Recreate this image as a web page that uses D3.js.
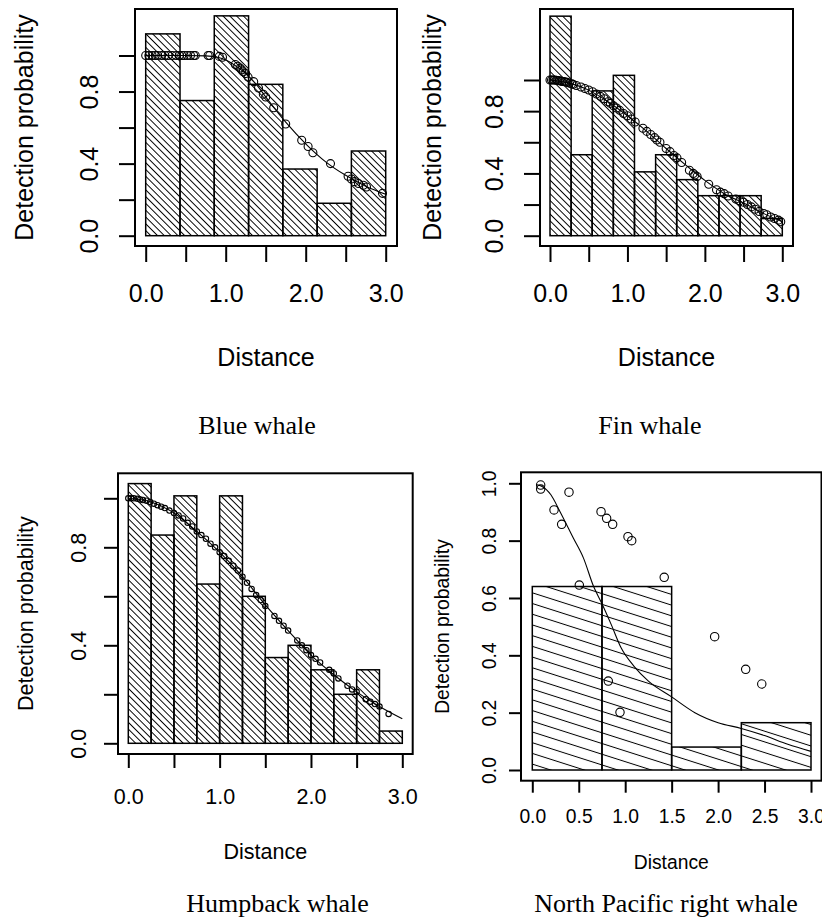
<!DOCTYPE html>
<html>
<head>
<meta charset="utf-8">
<script src="https://cdn.jsdelivr.net/npm/d3@7"></script>
<style>
  body { margin: 0; background: #fff; }
  svg { display: block; }
</style>
</head>
<body>
<div class="chart-container"></div>
<script>
// Histogram bins (distance) and scaled heights.
const blueEdges = [0, 0.429, 0.857, 1.286, 1.714, 2.143, 2.571, 3.0]
const blueHeights = [1.12, 0.75, 1.22, 0.84, 0.37, 0.18, 0.47]

const finEdges = [0, 0.273, 0.545, 0.818, 1.091, 1.364, 1.636, 1.909, 2.182, 2.455, 2.727, 3.0]
const finHeights = [1.41, 0.52, 0.93, 1.03, 0.41, 0.52, 0.36, 0.257, 0.257, 0.257, 0.11]

const humpEdges = [0, 0.25, 0.5, 0.75, 1.0, 1.25, 1.5, 1.75, 2.0, 2.25, 2.5, 2.75, 3.0]
const humpHeights = [1.06, 0.85, 1.01, 0.65, 1.01, 0.6, 0.35, 0.4, 0.3, 0.2, 0.3, 0.05]

const nprwEdges = [0, 0.75, 1.5, 2.25, 3.0]
const nprwHeights = [0.64, 0.64, 0.08, 0.165]

// Fitted detection functions [distance, probability].
const blueCurve = [[0, 1], [0.25, 1], [0.5, 1], [0.75, 0.998], [0.9, 0.99], [1.0, 0.975], [1.1, 0.95],
  [1.25, 0.9], [1.4, 0.83], [1.5, 0.77], [1.75, 0.63], [2.0, 0.51], [2.25, 0.41], [2.5, 0.335],
  [2.75, 0.275], [3.0, 0.23]]
const finCurve = [[0, 1], [0.25, 0.98], [0.5, 0.935], [0.75, 0.86], [1.0, 0.77], [1.25, 0.67],
  [1.5, 0.56], [1.75, 0.455], [2.0, 0.355], [2.25, 0.27], [2.5, 0.21], [2.75, 0.145], [3.0, 0.09]]
const humpCurve = [[0, 1.0], [0.25, 0.985], [0.5, 0.94], [0.75, 0.865], [1.0, 0.78], [1.25, 0.68],
  [1.5, 0.565], [1.75, 0.46], [2.0, 0.36], [2.25, 0.28], [2.5, 0.21], [2.75, 0.15], [3.0, 0.1]]
const nprwCurve = [[0.05, 0.995], [0.1, 0.99], [0.2, 0.96], [0.3, 0.9], [0.44, 0.81], [0.55, 0.74],
  [0.66, 0.64], [0.75, 0.58], [0.85, 0.507], [0.95, 0.43], [1.1, 0.36], [1.25, 0.31], [1.5, 0.255],
  [1.75, 0.2], [2.0, 0.165], [2.25, 0.145], [2.5, 0.12], [2.75, 0.09], [3.0, 0.065]]

// Observed detections [distance, probability].
const bluePoints = [[0.0, 1.0], [0.04, 1.0], [0.08, 1.0], [0.12, 1.0], [0.15, 1.0], [0.2, 1.0],
  [0.24, 1.0], [0.28, 1.0], [0.33, 1.0], [0.38, 1.0], [0.42, 1.0], [0.45, 1.0], [0.48, 1.0],
  [0.52, 1.0], [0.56, 1.0], [0.6, 1.0], [0.62, 1.0], [0.78, 1.0], [0.8, 1.0], [0.92, 0.995],
  [0.96, 0.99], [1.12, 0.95], [1.15, 0.94], [1.18, 0.93], [1.2, 0.92], [1.22, 0.91], [1.25, 0.9],
  [1.28, 0.88], [1.35, 0.855], [1.41, 0.82], [1.47, 0.785], [1.5, 0.77], [1.6, 0.71], [1.75, 0.62],
  [1.95, 0.53], [2.03, 0.495], [2.09, 0.46], [2.31, 0.4], [2.53, 0.33], [2.57, 0.315], [2.61, 0.3],
  [2.66, 0.29], [2.72, 0.28], [2.76, 0.27], [2.96, 0.235]]
const finPoints = [[0, 1], [0.02, 1], [0.04, 1], [0.06, 1], [0.08, 0.998], [0.1, 0.997], [0.12, 0.995],
  [0.14, 0.993], [0.16, 0.99], [0.18, 0.99], [0.2, 0.987], [0.22, 0.985], [0.25, 0.98], [0.28, 0.975],
  [0.3, 0.972], [0.34, 0.965], [0.4, 0.955], [0.45, 0.945], [0.5, 0.936], [0.55, 0.925], [0.6, 0.91],
  [0.65, 0.895], [0.7, 0.88], [0.75, 0.86], [0.78, 0.85], [0.82, 0.835], [0.86, 0.82], [0.9, 0.805],
  [0.95, 0.785], [1.0, 0.77], [1.05, 0.75], [1.1, 0.73], [1.2, 0.69], [1.25, 0.67], [1.3, 0.65],
  [1.35, 0.63], [1.38, 0.615], [1.42, 0.6], [1.5, 0.56], [1.55, 0.54], [1.6, 0.515], [1.64, 0.5],
  [1.7, 0.47], [1.8, 0.42], [1.85, 0.4], [1.87, 0.39], [1.9, 0.38], [2.05, 0.33], [2.15, 0.295],
  [2.2, 0.28], [2.25, 0.27], [2.3, 0.255], [2.4, 0.235], [2.45, 0.225], [2.5, 0.215], [2.55, 0.2],
  [2.6, 0.185], [2.65, 0.17], [2.7, 0.155], [2.76, 0.143], [2.8, 0.135], [2.85, 0.12], [2.9, 0.11],
  [2.95, 0.1], [2.98, 0.09]]
const humpPoints = [[0, 1.0], [0.03, 1.0], [0.06, 1.0], [0.1, 0.998], [0.13, 0.995], [0.16, 0.993],
  [0.2, 0.99], [0.24, 0.985], [0.28, 0.978], [0.32, 0.972], [0.36, 0.966], [0.4, 0.96], [0.45, 0.95],
  [0.5, 0.94], [0.55, 0.93], [0.6, 0.918], [0.65, 0.9], [0.7, 0.885], [0.75, 0.865], [0.8, 0.85],
  [0.85, 0.835], [0.9, 0.815], [0.95, 0.8], [1.0, 0.78], [1.05, 0.765], [1.1, 0.745], [1.15, 0.725],
  [1.2, 0.705], [1.25, 0.68], [1.3, 0.655], [1.35, 0.63], [1.4, 0.605], [1.45, 0.585], [1.5, 0.56],
  [1.6, 0.52], [1.65, 0.5], [1.7, 0.48], [1.75, 0.46], [1.85, 0.42], [1.9, 0.4], [1.95, 0.38],
  [2.0, 0.36], [2.05, 0.345], [2.1, 0.33], [2.2, 0.3], [2.25, 0.285], [2.3, 0.265], [2.4, 0.235],
  [2.45, 0.22], [2.5, 0.21], [2.6, 0.18], [2.65, 0.17], [2.7, 0.16], [2.75, 0.15], [2.85, 0.12]]
const nprwPoints = [[0.09, 0.994], [0.09, 0.98], [0.395, 0.969], [0.234, 0.907], [0.316, 0.857],
  [0.74, 0.901], [0.8, 0.878], [0.865, 0.857], [1.03, 0.814], [1.07, 0.8], [1.42, 0.672],
  [0.506, 0.645], [0.818, 0.31], [0.944, 0.201], [1.963, 0.465], [2.297, 0.351], [2.47, 0.3]]

// Axis ticks and captions.
const xTicks = [0, 0.5, 1.0, 1.5, 2.0, 2.5, 3.0]
const yTicks = [0, 0.2, 0.4, 0.6, 0.8, 1.0]
const sparseXLabels = [0, 1.0, 2.0, 3.0]
const sparseYLabels = [0, 0.4, 0.8]
const captions = ['Blue whale', 'Fin whale', 'Humpback whale', 'North Pacific right whale']

const panels = [
  { id: 'blue', edges: blueEdges, heights: blueHeights, curve: blueCurve, points: bluePoints,
    caption: captions[0], box: { l: 135, t: 9, r: 397, b: 246 }, x0: 145.7, x3: 385.7, y0: 235.7, y1: 55.5,
    fs: 25, tick: 16, tickLabY: 293, xlabY: 357, ylabX: 89, titleX: 24, r: 4,
    xLabels: sparseXLabels, yLabels: sparseYLabels, angle: 45, gap: 4.8, capX: 257, capY: 434 },
  { id: 'fin', edges: finEdges, heights: finHeights, curve: finCurve, points: finPoints,
    caption: captions[1], box: { l: 540, t: 9, r: 793, b: 246 }, x0: 550, x3: 782.3, y0: 235.7, y1: 80,
    fs: 25, tick: 16, tickLabY: 293, xlabY: 357, ylabX: 494, titleX: 432, r: 4,
    xLabels: sparseXLabels, yLabels: sparseYLabels, angle: 45, gap: 4.8, capX: 650, capY: 434 },
  { id: 'hump', edges: humpEdges, heights: humpHeights, curve: humpCurve, points: humpPoints,
    caption: captions[2], box: { l: 118, t: 473.3, r: 412.7, b: 754 }, x0: 128.3, x3: 402.3, y0: 743.3, y1: 498.3,
    fs: 21.5, tick: 14, tickLabY: 796, xlabY: 851.7, ylabX: 78, titleX: 25, r: 2.7,
    xLabels: sparseXLabels, yLabels: sparseYLabels, angle: 45, gap: 4.8, capX: 277.5, capY: 912 },
  { id: 'nprw', edges: nprwEdges, heights: nprwHeights, curve: nprwCurve, points: nprwPoints,
    caption: captions[3], box: { l: 521, t: 472.3, r: 821.5, b: 780.7 }, x0: 532.3, x3: 811, y0: 770, y1: 483.3,
    fs: 19.3, tick: 12, tickLabY: 815.7, xlabY: 862, ylabX: 489, titleX: 442.5, r: 4.2,
    xLabels: xTicks, yLabels: yTicks, angle: 17.7, gap: 10.2, capX: 666, capY: 912 }
]

const sans = '"Liberation Sans", Arial, sans-serif'
const serif = '"Liberation Serif", "Times New Roman", serif'

function drawPanel(svg, defs, p) {
  const xScale = d3.scaleLinear().domain([0, 3]).range([p.x0, p.x3])
  const yScale = d3.scaleLinear().domain([0, 1]).range([p.y0, p.y1])

  // hatch fill
  const pat = defs.append('pattern')
    .attr('id', 'hatch-' + p.id)
    .attr('patternUnits', 'userSpaceOnUse')
    .attr('width', 20)
    .attr('height', p.gap)
    .attr('patternTransform', `rotate(${p.angle})`)
  pat.append('line')
    .attr('x1', 0).attr('x2', 20)
    .attr('y1', p.gap / 2).attr('y2', p.gap / 2)
    .attr('stroke', '#000')
    .attr('stroke-width', 1)

  const bins = p.heights.map((h, i) => ({ x0: p.edges[i], x1: p.edges[i + 1], h }))
  const g = svg.append('g')

  g.selectAll('.bar')
    .data(bins)
    .enter()
    .append('rect')
    .attr('class', 'bar')
    .attr('x', d => xScale(d.x0))
    .attr('y', d => yScale(d.h))
    .attr('width', d => xScale(d.x1) - xScale(d.x0))
    .attr('height', d => yScale(0) - yScale(d.h))
    .attr('fill', `url(#hatch-${p.id})`)
    .attr('stroke', '#000')
    .attr('stroke-width', 1.5)

  const line = d3.line()
    .x(d => xScale(d[0]))
    .y(d => yScale(d[1]))
    .curve(d3.curveMonotoneX)

  g.append('path')
    .datum(p.curve)
    .attr('d', line)
    .attr('fill', 'none')
    .attr('stroke', '#000')
    .attr('stroke-width', 1.1)

  g.selectAll('.pt')
    .data(p.points)
    .enter()
    .append('circle')
    .attr('class', 'pt')
    .attr('cx', d => xScale(d[0]))
    .attr('cy', d => yScale(d[1]))
    .attr('r', p.r)
    .attr('fill', 'none')
    .attr('stroke', '#000')
    .attr('stroke-width', 1.1)

  // frame
  g.append('rect')
    .attr('x', p.box.l)
    .attr('y', p.box.t)
    .attr('width', p.box.r - p.box.l)
    .attr('height', p.box.b - p.box.t)
    .attr('fill', 'none')
    .attr('stroke', '#000')
    .attr('stroke-width', 2)

  // axes
  const fmt = d3.format('.1f')
  const xAxis = d3.axisBottom(xScale)
    .tickValues(xTicks)
    .tickSize(p.tick)
    .tickFormat(d => (p.xLabels.includes(d) ? fmt(d) : ''))
  const gx = g.append('g')
    .attr('transform', `translate(0, ${p.box.b})`)
    .call(xAxis)
  gx.select('.domain').remove()
  gx.selectAll('line').attr('stroke-width', 2)
  gx.selectAll('text')
    .attr('y', p.tickLabY - p.box.b)
    .attr('dy', '0.36em')
    .attr('fill', '#000')
    .style('font', `${p.fs}px ${sans}`)

  const yAxis = d3.axisLeft(yScale)
    .tickValues(yTicks)
    .tickSize(p.tick)
    .tickFormat(d => (p.yLabels.includes(d) ? fmt(d) : ''))
  const gy = g.append('g')
    .attr('transform', `translate(${p.box.l}, 0)`)
    .call(yAxis)
  gy.select('.domain').remove()
  gy.selectAll('line').attr('stroke-width', 2)
  gy.selectAll('text')
    .attr('x', null)
    .attr('dy', '0.36em')
    .attr('text-anchor', 'middle')
    .attr('transform', `translate(${p.ylabX - p.box.l}, 0) rotate(-90)`)
    .attr('fill', '#000')
    .style('font', `${p.fs}px ${sans}`)

  // titles
  g.append('text')
    .attr('x', (p.box.l + p.box.r) / 2)
    .attr('y', p.xlabY)
    .attr('dy', '0.36em')
    .attr('text-anchor', 'middle')
    .style('font', `${p.fs}px ${sans}`)
    .text('Distance')

  g.append('text')
    .attr('transform', `translate(${p.titleX}, ${(p.box.t + p.box.b) / 2}) rotate(-90)`)
    .attr('dy', '0.36em')
    .attr('text-anchor', 'middle')
    .style('font', `${p.fs}px ${sans}`)
    .text('Detection probability')

  svg.append('text')
    .attr('x', p.capX)
    .attr('y', p.capY)
    .attr('text-anchor', 'middle')
    .style('font', `26px ${serif}`)
    .text(p.caption)
}

const svg = d3.select('.chart-container')
  .append('svg')
  .attr('width', 822)
  .attr('height', 919)

const defs = svg.append('defs')

panels.forEach(p => drawPanel(svg, defs, p))
</script>
</body>
</html>
